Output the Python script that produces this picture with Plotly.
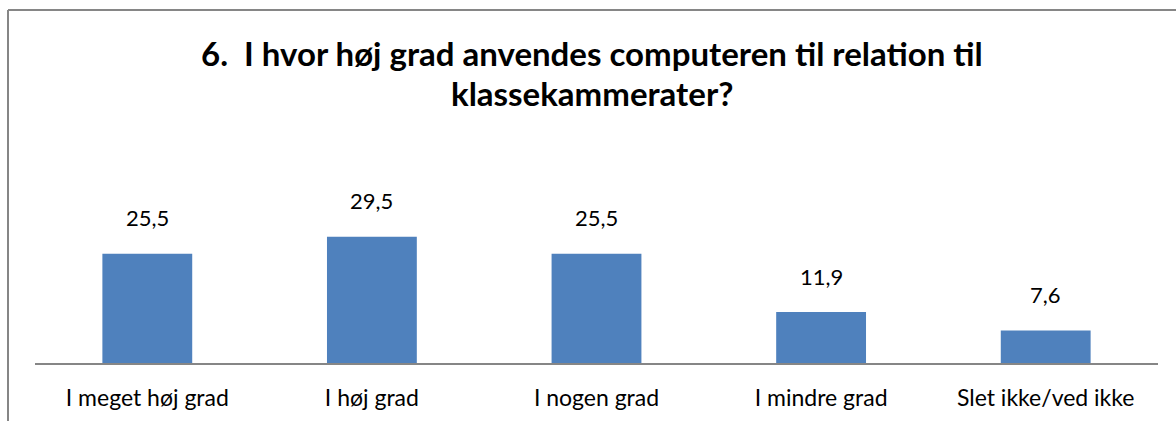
import plotly.graph_objects as go

categories = ["I meget høj grad", "I høj grad", "I nogen grad", "I mindre grad", "Slet ikke/ved ikke"]
values = [25.5, 29.5, 25.5, 11.9, 7.6]
value_labels = ["25,5", "29,5", "25,5", "11,9", "7,6"]
title_lines = ["6.  I hvor høj grad anvendes computeren til relation til", "klassekammerater?"]

W, H = 1176, 421
ML, MR, MT, MB = 35, 18, 149, 58
plot_h = H - MT - MB
plot_w = W - ML - MR
FONT = "Lato, sans-serif"

fig = go.Figure()
fig.add_trace(go.Bar(
    x=categories, y=values, marker=dict(color="#4F81BD", line=dict(width=0)),
    width=0.4, hoverinfo="skip",
))

for c, v, t in zip(categories, values, value_labels):
    fig.add_annotation(x=c, y=v, text=t, showarrow=False, yshift=36,
                       font=dict(family=FONT, size=22, color="#000000"))

# title lines
for line, ypix in zip(title_lines, [53, 93]):
    fig.add_annotation(xref="paper", yref="paper", x=0.5, y=1 + (MT - ypix) / plot_h,
                       xshift=(592 - (ML + plot_w / 2)),
                       text=line, showarrow=False, yanchor="middle",
                       font=dict(family=FONT, size=33, color="#000000", weight="bold"))

# chart border (top and left visible)
bx = (8 - ML) / plot_w
by = 1 + (MT - 10) / plot_h
fig.add_shape(type="line", xref="paper", yref="paper", x0=bx, x1=1.2, y0=by, y1=by,
              line=dict(color="#868686", width=2))
fig.add_shape(type="line", xref="paper", yref="paper", x0=bx, x1=bx, y0=by, y1=-0.5,
              line=dict(color="#868686", width=2))

fig.update_layout(
    width=W, height=H,
    margin=dict(l=ML, r=MR, t=MT, b=MB, autoexpand=False),
    paper_bgcolor="white", plot_bgcolor="white",
    showlegend=False,
    bargap=0.6,
    xaxis=dict(showline=True, linecolor="#868686", linewidth=1.5, ticks="",
               ticklabelstandoff=14, automargin=False,
               tickfont=dict(family=FONT, size=23, color="#000000"),
               showgrid=False, zeroline=False, fixedrange=True),
    yaxis=dict(range=[0, 50], visible=False, showgrid=False, zeroline=False, fixedrange=True),
)

fig.write_html("out.html", post_script="document.body.style.margin='0px';",
               config={"displayModeBar": False})
